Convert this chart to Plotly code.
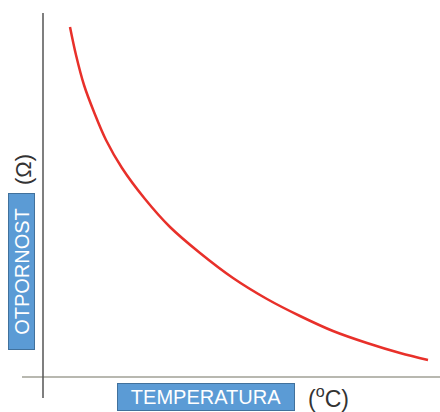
import plotly.graph_objects as go

# Data (arbitrary units)
temperature = [27, 33, 41, 51, 63, 79, 102, 127, 157, 190, 224, 257, 290, 324, 357, 385]
resistance = [349, 321, 291, 264, 236, 208, 177, 149, 123, 98, 77, 60, 45, 33, 23, 16]

x_label = "TEMPERATURA"
y_label = "OTPORNOST"
x_unit = "(<sup>o</sup>C)"
y_unit = "(Ω)"

W, H = 440, 412
L, R, T, B = 43, 0, 0, 36
PW, PH = W - L - R, H - T - B


def px(x):
    return (x - L) / PW


def py(y):
    return (H - B - y) / PH


fig = go.Figure()
fig.add_trace(go.Scatter(
    x=temperature, y=resistance, mode="lines",
    line=dict(color="#e8302a", width=2.5, shape="spline", smoothing=1.0),
    hoverinfo="skip", showlegend=False,
))

shapes = [
    dict(type="line", xref="paper", yref="paper", x0=px(22), x1=px(440), y0=py(377), y1=py(377),
         line=dict(color="#b8b8b0", width=2), layer="below"),
    dict(type="line", xref="paper", yref="paper", x0=px(43), x1=px(43), y0=py(13), y1=py(398),
         line=dict(color="#555555", width=1.5)),
]

annotations = [
    dict(text=y_label, xref="paper", yref="paper", x=px(21.5), y=py(271.5), showarrow=False,
         textangle=-90, font=dict(family="Liberation Sans, Arial", size=20, color="white"),
         bgcolor="#5b9bd5", bordercolor="#41719c", borderwidth=1, borderpad=0,
         width=155, height=25, xanchor="center", yanchor="middle"),
    dict(text=y_unit, xref="paper", yref="paper", x=px(23), y=py(170), showarrow=False,
         textangle=-90, font=dict(family="Liberation Sans, Arial", size=22, color="#333333"),
         xanchor="center", yanchor="middle"),
    dict(text=x_label, xref="paper", yref="paper", x=px(206), y=py(397), showarrow=False,
         font=dict(family="Liberation Sans, Arial", size=20, color="white"),
         bgcolor="#5b9bd5", bordercolor="#41719c", borderwidth=1, borderpad=0,
         width=176, height=26, xanchor="center", yanchor="middle"),
    dict(text=x_unit, xref="paper", yref="paper", x=px(328), y=py(397), showarrow=False,
         font=dict(family="Liberation Sans, Arial", size=23, color="#333333"),
         xanchor="center", yanchor="middle"),
]

fig.update_layout(
    width=W, height=H,
    margin=dict(l=L, r=R, t=T, b=B),
    paper_bgcolor="white", plot_bgcolor="white",
    xaxis=dict(range=[0, PW], visible=False, fixedrange=True),
    yaxis=dict(range=[0, PH], visible=False, fixedrange=True),
    shapes=shapes, annotations=annotations,
)

fig.write_html(
    "out.html",
    config={"displayModeBar": False},
    post_script="document.body.style.margin='0';document.body.style.overflow='hidden';",
)
